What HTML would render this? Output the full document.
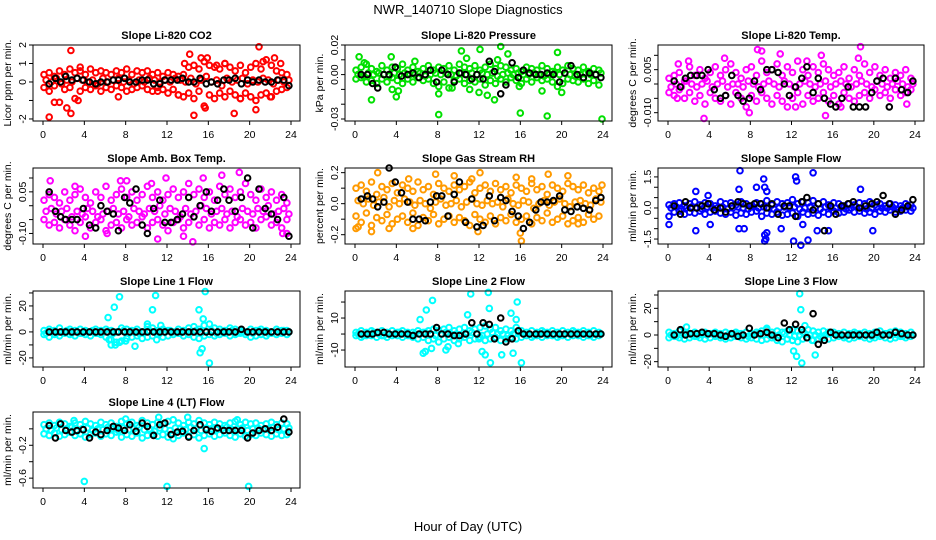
<!DOCTYPE html>
<html><head><meta charset="utf-8">
<style>
html,body{margin:0;padding:0;background:#fff;}
svg{display:block;font-family:"Liberation Sans",Arial,sans-serif;}
</style></head>
<body>
<svg id="chart" width="936" height="540" viewBox="0 0 936 540" xmlns="http://www.w3.org/2000/svg">
<rect x="0" y="0" width="936" height="540" fill="#fff"/>
<text x="468" y="14" text-anchor="middle" font-size="13">NWR_140710  Slope Diagnostics</text>
<text x="468" y="531" text-anchor="middle" font-size="13">Hour of Day (UTC)</text>
</svg>
<script>
// shared time arrays (hours UTC)
const hoursA = [0.1,0.6,1.1,1.6,2.1,2.6,3.1,3.6,4.1,4.6,5.1,5.6,6.1,6.6,7.1,7.6,8.1,8.6,9.1,9.6,10.1,10.6,11.1,11.6,12.1,12.6,13.1,13.6,14.1,14.6,15.1,15.6,16.1,16.6,17.1,17.6,18.1,18.6,19.1,19.6,20.1,20.6,21.1,21.6,22.1,22.6,23.1,23.6];
const hoursM = [0.3,0.8,1.3,1.8,2.3,2.8,3.3,3.8,4.3,4.8,5.3,5.8,6.3,6.8,7.3,7.8,8.3,8.8,9.3,9.8,10.3,10.8,11.3,11.8,12.3,12.8,13.3,13.8,14.3,14.8,15.3,15.8,16.3,16.8,17.3,17.8,18.3,18.8,19.3,19.8,20.3,20.8,21.3,21.8,22.3,22.8,23.3,23.8];
const hoursK = [0.6,1.2,1.7,2.2,2.8,3.3,3.9,4.5,5.1,5.6,6.2,6.8,7.3,7.9,8.4,9.0,9.6,10.1,10.7,11.3,11.8,12.4,13.0,13.5,14.1,14.6,15.2,15.8,16.3,16.9,17.5,18.0,18.6,19.2,19.8,20.3,20.9,21.5,22.1,22.7,23.3,23.8];
const xTicks = [0,4,8,12,16,20,24];

// Panel 1: CO2 (ppm/min)
const co2A = [.4,.5,.3,.6,.4,.7,.5,.6,.4,.7,.5,.6,.5,.4,.6,.5,.7,.4,.6,.5,.6,.4,.5,.3,.5,.4,.3,.4,.8,.9,.7,1.1,.9,.8,.7,1,.8,.6,.9,.5,.8,1,.7,1.2,.9,.6,.5,.4];
const co2M = [.1,0,.2,-.1,.1,0,.2,.1,0,.1,-.1,.2,0,.1,.2,0,.1,-.1,.1,0,.2,.1,0,.1,0,.2,.1,0,.2,-.1,.1,.3,0,.1,-.2,.2,0,.1,.2,-.1,.1,0,.2,.1,-.1,.1,0,.1];
const co2B = [-.3,-.5,-.2,-1.1,-.4,-.3,-.9,-.5,-.3,-.4,-.2,-.5,-.3,-.4,-.2,-.3,-.5,-.4,-.3,-.2,-.4,-.5,-.3,-.4,-.6,-.4,-.7,-.8,-.6,-.9,-.5,-1.3,-.7,-.9,-.6,-.8,-.5,-.7,-.9,-.6,-.8,-1,-.7,-.6,-.8,-.5,-.4,-.3];
const co2K = [-.1,.2,0,.3,.1,.2,.1,0,-.1,0,0,.1,.1,.2,0,0,.1,.1,-.1,-.1,.1,.1,.1,.2,0,0,.2,-.1,0,-.1,.1,.1,.2,-.1,.1,0,.1,0,0,.1,.1,-.2];
const co2OutH = [0.6,1.1,2.3,2.7,2.7,3.4,3.6,7.3,13.7,14.2,14.6,15.3,15.9,15.7,16.8,18.5,20.9,21.3,20.6,22.4,23.0,22.0,17.6,19.1,11.1,13.1];
const co2OutV = [-1.9,-1.1,-1.4,1.7,-1.7,-1.0,0.8,-0.8,1.0,1.5,-1.8,1.3,1.3,-1.4,0.9,-1.7,1.9,1.1,-1.5,1.3,1.0,-0.8,1.0,-0.9,-0.5,-0.7];

// Panel 2: Pressure (x0.001 kPa/min)
const prA = [3,5,7,4,2,6,3,5,4,7,3,5,2,4,6,3,5,4,6,3,7,5,4,6,3,5,7,4,6,5,3,4,2,5,4,3,6,4,2,5,3,6,4,3,5,2,4,3];
const prM = [0,-1,1,0,1,0,-1,1,0,1,0,0,1,-1,0,1,0,1,0,-1,1,0,1,0,1,0,1,-1,0,1,0,1,0,0,1,0,-1,0,1,0,1,0,-1,0,1,0,0,1];
const prB = [-3,-2,-5,-4,-6,-3,-5,-2,-4,-6,-3,-5,-2,-4,-3,-6,-8,-5,-9,-4,-3,-6,-4,-5,-3,-7,-4,-6,-3,-5,-2,-4,-6,-3,-5,-2,-4,-3,-5,-8,-6,-3,-4,-5,-3,-6,-4,-7];
const prK = [0,0,-6,-9,0,0,5,-1,0,1,-2,0,3,-5,3,0,-5,1,0,-3,0,-3,9,2,-13,-7,8,-2,3,1,0,0,1,0,-5,1,6,0,-2,1,0,-2];
const prOutH = [0.4,1.6,0.9,3.5,4.0,4.2,3.6,8.1,8.1,10.3,10.8,12.1,12.0,13.5,14.1,14.8,16.0,15.9,18.1,18.6,19.6,20.0,23.9,5.8,13.8,9.4,11.1,12.8];
const prOutV = [12,-17,8,12,-15,-11,-10,-27,-13,16,11,17,-12,-17,19,14,-26,-8,-11,-28,15,-12,-30,9,10,-9,-10,-14];

// Panel 3: Li-820 Temp (x0.001 C/min)
const ltA = [2,3,4,1,6,3,5,2,4,6,3,5,7,4,2,5,6,3,8,4,5,7,3,6,4,8,5,3,6,4,7,5,3,4,6,2,5,3,7,4,6,3,5,2,4,3,5,2];
const ltM = [-1,0,-1,1,0,-1,0,1,-1,0,1,-1,0,0,-1,1,0,-1,0,1,0,-1,1,0,-1,0,1,0,-1,0,1,-1,0,1,0,-1,0,1,0,-1,1,0,-1,0,1,0,-1,0];
const ltB = [-3,-4,-2,-5,-3,-6,-4,-7,-3,-5,-6,-4,-7,-3,-5,-8,-4,-6,-3,-5,-7,-4,-6,-8,-5,-3,-7,-4,-6,-5,-3,-6,-4,-7,-3,-5,-6,-4,-3,-5,-2,-4,-3,-5,-2,-4,-3,-2];
const ltK = [1,-1,2,3,3,3,5,-2,-5,-4,3,-4,-6,-5,1,-2,5,5,4,0,-4,-1,2,6,-3,2,-5,-7,-8,-5,-1,-8,-8,-8,-3,1,2,-8,2,-2,-3,1];
const ltOutH = [3.5,5.5,8.7,9.1,10.9,14.9,15.3,18.7,18.5,7.9,2.0,1.0,23.2,0.9,12.4,13.5,16.8];
const ltOutV = [-12,9,12,11.5,10.5,10,-11,13,9,-10,8,7,-7,-5,-8,8,-8];

// Panel 4: Amb. Box Temp (x0.01 C/min)
const abA = [2,4,3,1,5,2,4,6,3,1,5,3,7,2,4,6,3,5,2,4,7,3,5,2,4,6,3,5,8,4,6,3,5,2,7,4,6,3,5,8,4,2,6,3,5,2,4,1];
const abM = [-2,-1,-3,-2,-1,-4,-2,-3,-1,-2,-4,-3,-2,-1,-3,-2,-4,-1,-2,-3,-1,-2,0,-3,-1,-2,-4,-1,-3,-2,0,-1,-3,-2,-1,-3,-2,-4,-1,-2,-3,-1,-2,0,-3,-2,-1,-3];
const abB = [-5,-7,-6,-8,-5,-7,-9,-6,-4,-8,-6,-5,-9,-7,-6,-8,-5,-7,-6,-4,-8,-6,-5,-7,-9,-6,-5,-8,-6,-4,-7,-5,-8,-6,-7,-5,-8,-6,-5,-7,-6,-8,-5,-4,-7,-6,-8,-5];
const abK = [5,-2,-4,-5,-5,-5,-1,-7,-8,0,-2,-3,-9,3,1,6,-7,-10,-1,2,-6,-6,-5,-3,3,-4,0,5,-2,2,6,2,-2,3,10,-8,6,-1,-3,-5,3,-11];
const abOutH = [4.1,6.2,7.5,8.1,11.1,13.6,14.5,15.5,17.3,19.0,23.2,23.6,0.7,3.1,10.5,11.9];
const abOutV = [-11,-10,9,9,-12,-11,-13,10,11,12,-10,-10,9,7,8,10];

// Panel 5: Gas Stream RH (x0.01 %/min)
const rhA = [10,12,8,14,6,11,9,13,7,12,10,8,14,9,11,6,13,10,8,12,9,11,14,7,10,12,8,13,9,11,7,12,10,8,13,9,11,6,12,10,8,13,11,9,12,7,10,8];
const rhM = [2,0,3,-1,1,4,-2,2,0,3,1,-1,2,0,-3,1,3,-1,0,2,-2,1,3,0,-1,2,0,1,-2,3,0,-1,2,1,-3,0,2,-1,1,3,0,-2,1,2,0,-1,3,1];
const rhB = [-8,-12,-6,-14,-9,-11,-7,-13,-10,-8,-12,-6,-14,-9,-11,-7,-13,-10,-8,-12,-9,-11,-14,-7,-10,-12,-8,-13,-9,-11,-7,-12,-10,-8,-13,-9,-11,-6,-12,-10,-8,-13,-11,-9,-12,-7,-10,-8];
const rhK = [3,5,3,-2,1,23,14,7,1,-10,-10,-11,1,5,5,-8,6,14,-12,3,-15,-14,5,-11,4,2,-5,-8,-16,-12,-4,1,1,2,5,-4,-5,-2,-3,-4,2,4];
const rhOutH = [0.1,1.6,2.2,5.2,7.8,9.6,11.3,12.1,11.9,15.6,16.0,16.1,17.1,18.7,20.6,23.9,21.6,5.6,0.3,3.3];
const rhOutV = [-16,-18,20,16,19,18,16,20,-18,17,-19,-24,16,19,18,12,-13,-16,-15,-16];

// Panel 6: Sample Flow (ml/min per min)
const sfA = [.15,.2,.25,.1,.2,.3,.15,.25,.2,.1,.3,.2,.25,.15,.3,.2,.1,.25,.2,.35,.15,.3,.2,.25,.4,.2,.3,.25,.35,.2,.3,.15,.25,.2,.1,.2,.15,.25,.2,.3,.15,.2,.1,.2,.15,.1,.2,.15];
const sfM = [0,.05,-.05,0,.05,0,-.05,.05,0,0,.05,-.05,0,.05,0,-.05,.05,0,.05,0,-.05,0,.05,0,.05,-.05,0,.05,0,-.05,.05,0,0,.05,-.05,0,.05,0,-.05,0,.05,0,0,.05,-.05,0,.05,0];
const sfB = [-.4,-.2,-.15,-.3,-.2,-.25,-.15,-.3,-.2,-.15,-.25,-.3,-.2,-.35,-.25,-.3,-.2,-.15,-.4,-.25,-.3,-.2,-.35,-.3,-.25,-.4,-.2,-.3,-.25,-.35,-.2,-.3,-.15,-.25,-.2,-.1,-.2,-.15,-.25,-.2,-.3,-.15,-.2,-.1,-.2,-.15,-.1,-.15];
const sfK = [.1,-.3,.3,0,0,.1,.2,-.1,0,-.2,.1,.3,.2,.1,.2,.2,0,.2,-.3,.1,.1,-.4,.3,.5,-.1,.2,-1.1,.1,-.3,.1,.2,.3,0,.1,.2,.3,.6,.2,-.3,-.1,.1,.4];
const sfOutH = [0.1,2.7,2.7,3.9,4.1,6.9,6.9,7.0,7.4,8.6,9.3,9.4,9.4,9.4,9.5,9.6,9.6,11.0,12.2,12.4,12.5,12.9,13.1,14.1,13.6,14.5,15.6,18.7,19.9];
const sfOutV = [-.8,.8,-1.1,.6,-.8,.9,-1,1.8,-1,1,1.4,1,-1.6,-1.3,-1.5,-1.2,.8,-1,-1.6,1.5,1.3,-1.8,-.8,1.7,-1.55,-1.1,-1.1,.9,-1.1];

// Panel 7: Line 1 Flow
const l1A = [1,2,1,3,0,2,1,2,1,0,2,1,2,1,0,3,2,1,2,0,4,3,1,2,1,0,2,1,3,4,2,5,6,3,2,1,3,2,1,0,2,1,2,1,0,2,1,1];
const l1M = [-1,0,-1,0,1,-1,0,-1,0,1,-1,0,0,-1,0,1,-1,0,-1,0,1,0,-1,0,1,0,-1,0,0,1,-1,0,1,-1,0,0,1,-1,0,0,-1,1,0,-1,0,0,1,0];
const l1B = [-2,-4,-2,-3,-1,-2,-3,-1,-2,-3,-1,-2,-4,-6,-8,-7,-5,-4,-3,-5,-4,-3,-2,-4,-3,-2,-1,-3,-2,-4,-5,-3,-2,-3,-2,-1,-3,-2,-1,-2,-4,-3,-2,-3,-1,-2,-1,-2];
const l1K = [0,0,0,0,0,0,0,0,0,0,0,0,0,0,0,0,0,0,0,0,0,0,0,0,0,0,0,0,0,0,0,0,0,2,0,0,0,0,0,0,0,0];
const l1OutH = [6.3,6.4,6.6,6.9,7.0,7.4,7.4,8.9,10.6,10.9,11.0,15.1,15.2,15.4,15.5,15.7,16.1,8.0,10.1,11.4];
const l1OutV = [11,-6,-10,19,-10,27,-8,-11,17,28,-6,17,-16,-13,10,31,-24,-7,6,5];

// Panel 8: Line 2 Flow
const l2A = [1,2,1,2,1,2,1,2,1,2,1,1,2,1,2,3,2,3,4,2,3,4,2,3,4,5,3,4,2,3,2,4,2,1,2,1,2,1,2,1,2,1,2,1,2,1,2,1];
const l2M = [0,-1,0,1,0,-1,0,0,1,0,-1,0,0,1,0,-1,0,1,0,0,-1,0,1,0,-1,0,1,0,0,-1,0,1,0,0,-1,0,1,0,0,-1,0,0,1,0,0,-1,0,0];
const l2B = [-1,-2,-1,-1,-2,-1,-2,-1,-1,-2,-1,-2,-3,-2,-4,-3,-5,-3,-2,-4,-3,-2,-4,-3,-2,-4,-3,-2,-4,-3,-2,-3,-2,-1,-2,-1,-2,-1,-1,-2,-1,-2,-1,-1,-2,-1,-2,-1];
const l2K = [0,0,0,1,1,0,0,0,0,-1,0,0,0,4,0,0,-1,-1,0,7,0,7,6,-3,10,-5,-3,2,0,0,0,0,0,0,0,0,0,0,0,0,0,0];
const l2OutH = [6.3,6.6,6.8,6.9,7.4,7.5,8.8,9.0,10.9,11.2,12.3,12.6,12.9,13.0,13.1,14.2,15.1,15.3,15.6,15.7,16.1,12.0,10.0];
const l2OutV = [9,-12,-11,15,-9,21,-10,-8,12,25,-11,-13,26,16,-18,-13,13,-12,9,20,-18,-3,-6];

// Panel 9: Line 3 Flow
const l3A = [2,1,3,2,1,2,1,2,1,2,1,2,1,2,1,2,1,2,3,4,2,3,2,3,4,3,2,4,3,2,3,2,2,1,2,1,2,1,2,1,2,3,1,2,3,2,1,2];
const l3M = [0,-1,0,1,0,-1,0,0,1,0,-1,0,0,1,0,-1,0,1,0,0,-1,0,1,0,-1,0,1,0,0,-1,0,1,0,0,-1,0,1,0,0,-1,0,0,1,0,0,-1,0,0];
const l3B = [-2,-1,-2,-3,-2,-1,-2,-3,-2,-1,-2,-3,-2,-1,-2,-3,-2,-3,-4,-3,-2,-4,-5,-3,-4,-5,-3,-2,-4,-3,-2,-3,-2,-1,-2,-3,-2,-1,-2,-3,-2,-1,-2,-3,-2,-1,-2,-1];
const l3K = [0,4,0,1,1,2,1,1,0,-1,1,-1,0,5,0,1,2,0,-2,9,4,8,4,-2,16,-7,-4,2,0,0,0,0,0,0,0,2,0,0,2,1,0,0];
const l3OutH = [1.8,12.2,12.5,12.8,12.9,13.0,13.3,14.3,14.0,12.1,9.6];
const l3OutV = [6,-12,-16,31,19,-21,7,-15,-4,-4,5];

// Panel 10: Line 4 (LT) Flow (x0.01)
const l4A = [5,7,4,8,6,3,7,5,9,6,4,8,5,7,3,9,6,8,4,10,7,5,8,6,9,11,7,4,8,6,10,7,5,8,6,4,7,9,5,8,6,7,4,6,8,5,7,6];
const l4M = [0,-2,1,-1,0,2,-3,0,1,-2,0,-1,2,0,-2,1,-1,0,2,-1,0,-3,1,0,-2,1,0,-1,2,0,-2,1,0,-1,0,2,-1,0,1,-2,0,1,-1,0,2,-1,0,1];
const l4B = [-6,-8,-5,-9,-7,-4,-8,-6,-10,-7,-5,-9,-6,-8,-4,-10,-7,-9,-5,-11,-8,-6,-9,-7,-10,-12,-8,-5,-9,-7,-11,-8,-6,-9,-7,-5,-8,-10,-6,-9,-7,-8,-5,-7,-9,-6,-8,-7];
const l4K = [4,-11,6,-2,-4,-2,-1,-11,-4,-7,-2,3,1,-2,5,-3,7,3,-8,5,7,-7,-4,-3,-10,-2,5,-1,-3,1,-2,-2,-2,-2,-11,-5,-2,0,-2,2,12,-4];
const l4OutH = [4.0,12.0,19.9,15.6,11.2,14.0,8.0,3.0,18.8];
const l4OutV = [-64,-70,-70,-24,14,14,12,10,11];

// y-axis tick values and labels
const co2Ticks=[-2,-1,0,1,2], co2Labels=['-2','','0','1','2'];
const prTicks=[-30,-20,-10,0,10,20], prLabels=['-0.03','','','0.00','','0.02'];
const ltTicks=[-10,-5,0,5,10], ltLabels=['-0.010','','','0.005',''];
const abTicks=[-10,-5,0,5,10], abLabels=['-0.10','','','0.05',''];
const rhTicks=[-20,-10,0,10,20], rhLabels=['-0.2','','0.0','','0.2'];
const sfTicks=[-1.5,-1,-0.5,0,0.5,1,1.5], sfLabels=['-1.5','','','0.0','','','1.5'];
const l1Ticks=[-20,-10,0,10,20,30], l1Labels=['-20','','0','','20',''];
const l2Ticks=[-10,0,10,20], l2Labels=['-10','','10',''];
const l3Ticks=[-20,-10,0,10,20,30], l3Labels=['-20','','0','','20',''];
const l4Ticks=[-60,-40,-20,0], l4Labels=['-0.6','','-0.2',''];

const panels = [
 {name:'co2',title:'Slope Li-820 CO2',ylab:'Licor ppm per min.',col:0,row:0,ylim:[-2.11,2.0],color:'#ff0000',A:co2A,M:co2M,B:co2B,K:co2K,OH:co2OutH,OV:co2OutV,ticks:co2Ticks,labels:co2Labels},
 {name:'pressure',title:'Slope Li-820 Pressure',ylab:'kPa per min.',col:1,row:0,ylim:[-31.35,20],color:'#00e000',A:prA,M:prM,B:prB,K:prK,OH:prOutH,OV:prOutV,ticks:prTicks,labels:prLabels},
 {name:'li820-temp',title:'Slope Li-820 Temp.',ylab:'degrees C per min.',col:2,row:0,ylim:[-12.9,13.6],color:'#ff00ff',A:ltA,M:ltM,B:ltB,K:ltK,OH:ltOutH,OV:ltOutV,ticks:ltTicks,labels:ltLabels},
 {name:'amb-box-temp',title:'Slope Amb. Box Temp.',ylab:'degrees C per min.',col:0,row:1,ylim:[-13.8,13.6],color:'#ff00ff',A:abA,M:abM,B:abB,K:abK,OH:abOutH,OV:abOutV,ticks:abTicks,labels:abLabels},
 {name:'gas-stream-rh',title:'Slope Gas Stream RH',ylab:'percent per min.',col:1,row:1,ylim:[-26,23],color:'#ff9a00',A:rhA,M:rhM,B:rhB,K:rhK,OH:rhOutH,OV:rhOutV,ticks:rhTicks,labels:rhLabels},
 {name:'sample-flow',title:'Slope Sample Flow',ylab:'ml/min per min.',col:2,row:1,ylim:[-1.74,1.93],color:'#0000ff',A:sfA,M:sfM,B:sfB,K:sfK,OH:sfOutH,OV:sfOutV,ticks:sfTicks,labels:sfLabels},
 {name:'line1-flow',title:'Slope Line 1 Flow',ylab:'ml/min per min.',col:0,row:2,ylim:[-27,31.5],color:'#00ffff',A:l1A,M:l1M,B:l1B,K:l1K,OH:l1OutH,OV:l1OutV,ticks:l1Ticks,labels:l1Labels},
 {name:'line2-flow',title:'Slope Line 2 Flow',ylab:'ml/min per min.',col:1,row:2,ylim:[-20.6,26.9],color:'#00ffff',A:l2A,M:l2M,B:l2B,K:l2K,OH:l2OutH,OV:l2OutV,ticks:l2Ticks,labels:l2Labels},
 {name:'line3-flow',title:'Slope Line 3 Flow',ylab:'ml/min per min.',col:2,row:2,ylim:[-24,33],color:'#00ffff',A:l3A,M:l3M,B:l3B,K:l3K,OH:l3OutH,OV:l3OutV,ticks:l3Ticks,labels:l3Labels},
 {name:'line4-flow',title:'Slope Line 4 (LT) Flow',ylab:'ml/min per min.',col:0,row:3,ylim:[-72,20.5],color:'#00ffff',A:l4A,M:l4M,B:l4B,K:l4K,OH:l4OutH,OV:l4OutV,ticks:l4Ticks,labels:l4Labels}
];

const NS='http://www.w3.org/2000/svg';
const svg=document.getElementById('chart');
const colX0=[43,355,668], colX24=[291,603,915];
const rowTop=[45,168,291,412], boxH=76;

function mk(parent,tag,attrs){
  const e=document.createElementNS(NS,tag);
  for(const k in attrs) e.setAttribute(k,attrs[k]);
  parent.appendChild(e);
  return e;
}

panels.forEach(p=>{
  const x0=colX0[p.col], x24=colX24[p.col];
  const left=x0-10, right=x24+9, top=rowTop[p.row], bottom=top+boxH;
  const xs=h=>x0+(h/24)*(x24-x0);
  const ys=v=>bottom-(v-p.ylim[0])/(p.ylim[1]-p.ylim[0])*(bottom-top);
  const g=mk(svg,'g',{});
  
  

  const t=mk(g,'text',{x:(left+right)/2,y:top-6,'text-anchor':'middle','font-size':11,'font-weight':'bold'});
  
  
  t.textContent=p.title;

  const yl=mk(g,'text',{x:0,y:0,'text-anchor':'middle','font-size':10.5,transform:`translate(${left-22},${(top+bottom)/2}) rotate(-90)`});
  
  
  yl.textContent=p.ylab;

  const pts=mk(g,'g',{fill:'none',stroke:p.color,'stroke-width':2});
  
  
  const draw=(H,V,grp,nm)=>{
    const n=Math.min(H.length,V.length);
    for(let i=0;i<n;i++){
      const c=mk(grp,'circle',{cx:xs(H[i]).toFixed(1),cy:ys(V[i]).toFixed(1),r:2.8});
      
      
    }
  };
  draw(hoursA,p.A,pts,'point-upper');
  draw(hoursM,p.M,pts,'point-mid');
  draw(hoursA,p.B,pts,'point-lower');
  draw(p.OH,p.OV,pts,'point-outlier');
  const kp=mk(g,'g',{fill:'none',stroke:'#000','stroke-width':2});
  
  
  draw(hoursK,p.K,kp,'point-hourly');

  const box=mk(g,'rect',{x:left,y:top,width:right-left,height:bottom-top,fill:'none',stroke:'#000','stroke-width':1});
  
  

  const xa=mk(g,'g',{});
  
  
  xTicks.forEach(v=>{
    const X=xs(v);
    mk(xa,'line',{x1:X,x2:X,y1:bottom,y2:bottom+4,stroke:'#000'});
    const tl=mk(xa,'text',{x:X,y:bottom+17,'text-anchor':'middle','font-size':10.5});
    
    
    tl.textContent=v;
  });

  const ya=mk(g,'g',{});
  
  
  p.ticks.forEach((v,i)=>{
    const Y=ys(v);
    mk(ya,'line',{x1:left-4,x2:left,y1:Y,y2:Y,stroke:'#000'});
    if(p.labels[i]){
      const tl=mk(ya,'text',{x:0,y:0,'text-anchor':'middle','font-size':10.5,transform:`translate(${left-7},${Y}) rotate(-90)`});
      
      
      tl.textContent=p.labels[i];
    }
  });
});
</script>
</body></html>
